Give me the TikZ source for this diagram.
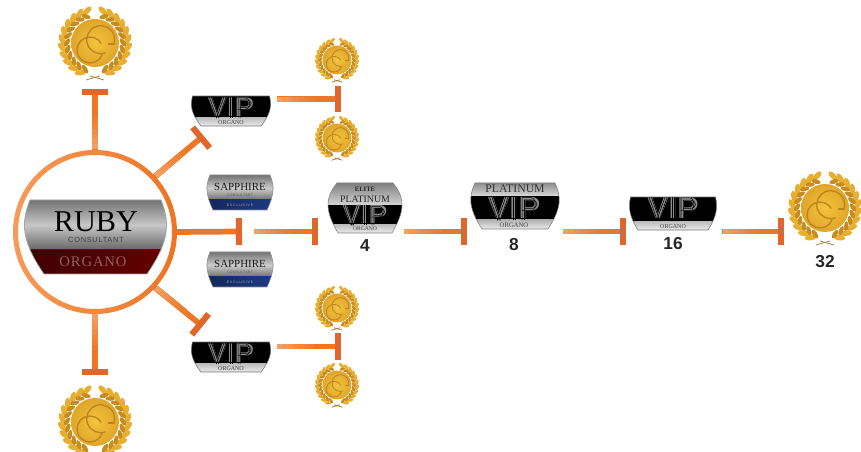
\documentclass[tikz,border=0pt]{standalone}
\usepackage{fontspec}
\setmainfont{Liberation Serif}
\setsansfont{Liberation Sans}
\newfontfamily\trk[LetterSpace=9]{Liberation Sans}
\newfontfamily\trs[LetterSpace=6]{Liberation Serif}
\newfontfamily\trt[LetterSpace=25]{Liberation Sans}
\usetikzlibrary{arrows.meta,calc}
\definecolor{org}{HTML}{EE7726}
\definecolor{orgl}{HTML}{F7A66E}
\definecolor{orgd}{HTML}{E0662B}
\definecolor{gold}{HTML}{E8AE2F}
\definecolor{goldd}{HTML}{BE831C}
\definecolor{goldl}{HTML}{F3C43C}
\definecolor{ringl}{HTML}{F79A58}
\definecolor{ringd}{HTML}{EE7423}
\definecolor{sapblue}{HTML}{1E3A86}
\definecolor{sapdark}{HTML}{14265C}
\tikzset{
 anchorbox/.style={inner sep=0pt,outer sep=0pt,draw=none,rectangle},
 tconn/.style={draw=org,line width=3.9pt,-{Bar[width=20pt,line width=4.4pt,color=orgd]}},
 spoke/.style={draw=org,line width=4.3pt,-{Bar[width=20pt,line width=4.6pt,color=orgd]}},
 numlabel/.style={font=\sffamily\bfseries\fontsize{13}{15}\selectfont,text=black!85,inner sep=0pt},
 leafo/.style={fill=gold},
 leafi/.style={fill=goldd!80!gold},
 emblem/.style={draw=goldd,line width=#1},
}
\newcommand{\wreathside}{%
  \foreach \a in {14,28,...,154}{%
    \fill[leafo,shift={({33*sin(\a)},{-33*cos(\a)})},rotate={180-\a-32}] (0,0) ellipse [x radius=6,y radius=2.7];
    \fill[leafi,shift={({28*sin(\a+5)},{-28*cos(\a+5)})},rotate={180-\a+30}] (0,0) ellipse [x radius=5,y radius=2.3];
  }%
  \draw[goldd!60!gray,line width=.6pt] (9,37) -- (-5,33);
}
\newcommand{\medal}[4]{%
  \node[anchorbox,circle,minimum size={#4*57pt}] (#1) at (#2,#3) {};
  \begin{scope}[shift={(#2,#3)},scale=#4]
    \wreathside
    \begin{scope}[xscale=-1]\wreathside\end{scope}
    \shade[inner color=goldl,outer color=gold!80!goldd] (0,0) circle (24);
    \draw[emblem={#4*1pt}] (-5,7) ++(20:13) arc (20:330:13);
    \draw[emblem={#4*1pt}] (5.7,-3.3) ++(70:14) arc (70:380:14);
    \draw[emblem={#4*.8pt}] (19,1) -- (13,1);
  \end{scope}
}
\newcommand{\vipmark}[4]{% cx, cy, scale, colour
  \begin{scope}[shift={(#1,#2)},xscale={#3*1.06},yscale=#3,transform shape]
    \node[inner sep=0pt,text=#4,font=\sffamily\bfseries\fontsize{23}{24}\selectfont] at (0,0) {VIP};
    \foreach \d in {-1.1,1.1}{%
      \draw[black,line width=.42pt] (-22.3+\d,-12) -- (-14.3+\d,12) -- (-6.3+\d,-12);
      \draw[black,line width=.42pt] (.15+\d,-12) -- (.15+\d,12);
      \draw[black,line width=.42pt] (8.8+\d,12) -- (8.8+\d,{-9.2+\d}) -- (16,{-9.2+\d}) .. controls ({22.5+\d},{-9.2+\d}) and ({22.5+\d},{1.5-\d}) .. (16,{1.5-\d}) -- (8.8+\d,{1.5-\d});
    }
  \end{scope}
}
\newcommand{\silh}[6]{(#1+#5,#3) -- (#2-#5,#3) .. controls ({#2+(#5+#6)/6},{#3+(#4-#3)*.3}) and ({#2+(#5+#6)/6},{#3+(#4-#3)*.55}) .. (#2-#6,#4) -- (#1+#6,#4) .. controls ({#1-(#5+#6)/6},{#3+(#4-#3)*.55}) and ({#1-(#5+#6)/6},{#3+(#4-#3)*.3}) .. cycle}
\newcommand{\vipbadge}[7]{% name xl xr yt yb scale inset
  \node[anchorbox,minimum width={(#3-#2)*.75pt},minimum height={(#5-#4)*.75pt}] (#1) at ({(#2+#3)/2},{(#4+#5)/2}) {};
  \begin{scope}
    \clip \silh{#2}{#3}{#4}{#5}{.5}{#7};
    \fill[black] (#2-2,#4) rectangle (#3+2,#5-8);
    \shade[top color=black!25,bottom color=black!8] (#2-2,#5-8) rectangle (#3+2,#5);
    \vipmark{{(#2+#3)/2}}{#4+11}{#6}{black!45}
    \node[inner sep=0pt,text=black!75,font=\fontsize{4.5}{5}\selectfont] at ({(#2+#3)/2},#5-3.8) {ORGANO};
  \end{scope}
  \draw[black!55,line width=.4pt] \silh{#2}{#3}{#4}{#5}{.5}{#7};
}
\newcommand{\sapphire}[3]{%
  \node[anchorbox,minimum width=48pt,minimum height=26pt] (#1) at (#2,#3) {};
  \begin{scope}[shift={(#2,#3)}]
    \begin{scope}
      \clip \silh{-33}{33}{-18}{17}{3}{6};
      \shade[top color=black!55,bottom color=black!60,middle color=black!20] (-34,-18) rectangle (34,8);
      \shade[left color=sapdark,right color=sapblue] (-34,7) rectangle (34,17);
      \node[inner sep=0pt,text=black!90,font=\fontsize{8.2}{9}\selectfont] at (0,-6) {SAPPHIRE};
      \node[inner sep=0pt,text=black!65,font=\trk\fontsize{2.6}{3}\selectfont] at (0,2) {CONSULTANT};
      \node[inner sep=0pt,text=black!30,font=\trt\fontsize{2.6}{3}\selectfont] at (0,12) {EXCLUSIVE};
    \end{scope}
    \draw[black!45,line width=.4pt] \silh{-33}{33}{-18}{17}{3}{6};
  \end{scope}
}
\newcommand{\fade}[5]{%
  \foreach \f/\m in {.7/10,.6/20,.5/30,.4/40,.3/55,.2/70,.1/85}{%
    \draw[draw=orgl!\m!org,line width=#5] (#1,#2) -- ({#1+\f*(#3-#1)},{#2+\f*(#4-#2)});
  }%
}
\begin{document}
\begin{tikzpicture}[x=.75pt,y=-.75pt]
\useasboundingbox (0,0) rectangle (861,452);
\begin{scope}
\clip (0,0) rectangle (861,452);
\medal{mTop}{95}{43}{1}
\medal{mBot}{95}{422}{1}
\medal{mA}{337}{60}{.6}
\medal{mB}{337}{138}{.6}
\medal{mC}{337}{308}{.6}
\medal{mD}{337}{385}{.6}
\medal{mEnd}{825}{208}{1}
\end{scope}
% ruby
\node[anchorbox,circle,minimum size=119pt] (ruby) at (95,232) {};
\node[anchorbox,minimum width=105pt,minimum height=55pt] (rubyb) at (95,237) {};
\begin{scope}
  \clip \silh{25}{166}{200}{274}{5}{19};
  \shade[top color=black!55,bottom color=black!60,middle color=black!22] (24,200) rectangle (167,250);
  \fill[black!85] (24,249) rectangle (167,252);
  \shade[left color=red!25!black,right color=red!40!black] (24,251) rectangle (167,274);
  \node[inner sep=0pt,text=black,font=\fontsize{22.7}{24}\selectfont] at (96,221.5) {RUBY};
  \node[inner sep=0pt,text=black!75,font=\trk\fontsize{5.6}{7}\selectfont] at (96,239.5) {CONSULTANT};
  \node[inner sep=0pt,text=red!30!white!55!black,font=\trs\fontsize{11}{12}\selectfont] at (93,262) {ORGANO};
\end{scope}
\draw[black!35,line width=.5pt] \silh{25}{166}{200}{274}{5}{19};
% badges
\vipbadge{vA}{192}{270}{96}{126}{.88}{9}
\vipbadge{vB}{192}{270}{342}{372}{.88}{9}
\sapphire{sA}{240}{193}
\sapphire{sB}{240}{270}
% elite platinum
\node[anchorbox,minimum width=55pt,minimum height=37pt] (elite) at (365,208) {};
\begin{scope}
  \clip \silh{328}{402}{183}{233}{9}{10};
  \shade[top color=black!50,bottom color=black!15] (326,183) rectangle (404,206);
  \fill[black] (326,205) rectangle (404,225);
  \shade[top color=black!25,bottom color=black!8] (326,225) rectangle (404,233);
  \node[inner sep=0pt,text=black!85,font=\bfseries\fontsize{5}{6}\selectfont] at (365,189) {ELITE};
  \node[inner sep=0pt,text=black!85,font=\fontsize{7.4}{8}\selectfont] at (365,199) {PLATINUM};
  \vipmark{365}{215}{.85}{black!45}
  \node[inner sep=0pt,text=black!75,font=\fontsize{4.2}{5}\selectfont] at (365,229) {ORGANO};
\end{scope}
\draw[black!50,line width=.4pt] \silh{328}{402}{183}{233}{9}{10};
% platinum
\node[anchorbox,minimum width=66pt,minimum height=35pt] (plat) at (515,206) {};
\begin{scope}
  \clip \silh{471}{559}{183}{229}{4}{11};
  \shade[top color=black!45,bottom color=black!15] (470,183) rectangle (560,196);
  \fill[black] (470,196) rectangle (560,220);
  \shade[top color=black!30,bottom color=black!8] (470,220) rectangle (560,229);
  \node[inner sep=0pt,text=black!80,font=\fontsize{8.8}{10}\selectfont] at (515,189) {PLATINUM};
  \vipmark{514}{208}{1}{black!45}
  \node[inner sep=0pt,text=black!75,font=\fontsize{5}{6}\selectfont] at (514,225) {ORGANO};
\end{scope}
\draw[black!50,line width=.4pt] \silh{471}{559}{183}{229}{4}{11};
\vipbadge{vC}{630}{716}{197}{230}{.98}{8}
% labels
\node[numlabel] (n4) at (365,246) {4};
\node[numlabel] (n8) at (514,245) {8};
\node[numlabel] (n16) at (673,244) {16};
\node[numlabel] (n32) at (825,262) {32};
% connectors
\coordinate (vAin) at ($(vA.south west)+(10,11)$);
\coordinate (vBin) at ($(vB.north west)+(9,-17)$);
\draw[spoke,shorten >=6pt] (ruby.90) -- (mTop.south);
\draw[spoke,shorten >=6.5pt] (ruby.270) -- (mBot.north);
\draw[spoke,shorten >=-1.5pt] (ruby.43) -- (vAin);
\draw[spoke,shorten >=-1.5pt] (ruby.-43) -- (vBin);
\coordinate (sGap) at ($(sA.south)!.5!(sB.north)$);
\draw[spoke,shorten >=-1.5pt] (ruby.east) -- (sGap);
\coordinate (aMid) at ($(mA.south)!.5!(mB.north)$);
\coordinate (cMid) at ($(mC.south)!.5!(mD.north)$);
\draw[tconn,shorten <=5pt,shorten >=-3pt] (vA.east |- aMid) -- (aMid);
\draw[tconn,shorten <=5pt,shorten >=-3pt] (vB.east |- cMid) -- (cMid);
\draw[tconn,shorten <=10.5pt,shorten >=8pt] (sGap) -- (elite.west |- sGap);
\draw[tconn,shorten <=2pt,shorten >=3pt] (elite.east |- sGap) -- (plat.west |- sGap);
\draw[tconn,shorten <=4pt,shorten >=3pt] (plat.east |- sGap) -- (vC.west |- sGap);
\draw[tconn,shorten <=4.5pt,shorten >=2.5pt] (vC.east |- sGap) -- (mEnd.west |- sGap);
% lighter starts of the connectors
\fade{95}{149}{95}{100}{4.3pt}
\fade{95}{314}{95}{366}{4.3pt}
\fade{156}{176}{198}{140}{4pt}
\fade{156}{288}{198}{322}{4pt}
\fade{277}{99.5}{330}{99.5}{3.9pt}
\fade{277}{346.5}{330}{346.5}{3.9pt}
\fade{254}{231.5}{308}{231.5}{3.9pt}
\fade{404}{231.5}{458}{231.5}{3.9pt}
\fade{563}{231.5}{617}{231.5}{3.9pt}
\fade{723}{231.5}{775}{231.5}{3.9pt}
% ring
\shade[even odd rule,left color=ringl,right color=ringd] (ruby.center) circle (82) (ruby.center) circle (77);
\end{tikzpicture}
\end{document}
